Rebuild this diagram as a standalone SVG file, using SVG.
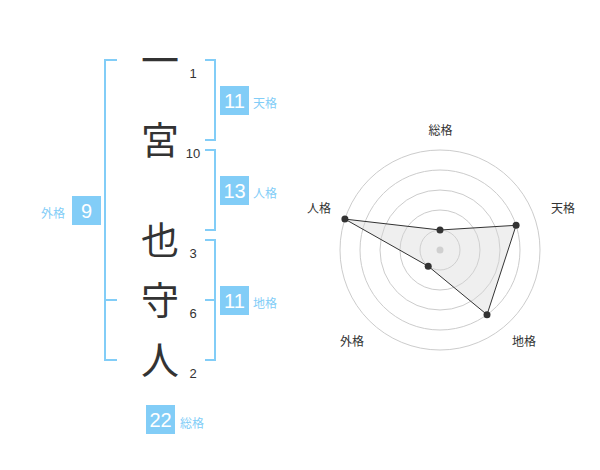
<svg xmlns="http://www.w3.org/2000/svg" width="600" height="470" viewBox="0 0 600 470">
<style>
.ch{font-family:"Noto Sans CJK JP","Noto Sans CJK SC",sans-serif;font-size:38px;fill:#333;text-anchor:middle}
.num{font-family:"Liberation Sans",Arial,sans-serif;font-size:13px;fill:#333;text-anchor:middle}
.br{fill:none;stroke:#82cdf7;stroke-width:2}
.box{fill:#82cdf7}
.bn{font-family:"Liberation Sans",Arial,sans-serif;font-size:20px;fill:#fff;text-anchor:middle}
.lb{font-family:"Noto Sans CJK JP",sans-serif;font-size:12px;fill:#82cdf7}
.grid{fill:none;stroke:#ccc;stroke-width:1}
.rl{font-family:"Noto Sans CJK JP",sans-serif;font-size:12px;fill:#333;text-anchor:middle}
.pt{fill:#333}
</style>
<rect width="600" height="470" fill="#fff"/>
<g id="name">
<text class="ch" x="160" y="74">一</text>
<text class="ch" x="160" y="154">宮</text>
<text class="ch" x="160" y="254">也</text>
<text class="ch" x="160" y="314">守</text>
<text class="ch" x="160" y="374">人</text>
<text class="num" x="193" y="78">1</text>
<text class="num" x="193" y="158">10</text>
<text class="num" x="193" y="258">3</text>
<text class="num" x="193" y="318">6</text>
<text class="num" x="193" y="378">2</text>
</g>
<g id="connectors">
<path class="br" d="M117,60 H105 V360 H117 M105,300 H117"/>
<path class="br" d="M205,60 H215 V140 H205"/>
<path class="br" d="M205,150 H215 V230 H205"/>
<path class="br" d="M205,240 H215 V360 H205 M205,300 H215"/>
</g>
<g id="tenkaku">
<rect class="box" x="220" y="86" width="29" height="29"/>
<text class="bn" x="234.5" y="107.5">11</text>
<text class="lb" x="253" y="108">天格</text>
</g>
<g id="jinkaku">
<rect class="box" x="220" y="176" width="29" height="29"/>
<text class="bn" x="234.5" y="197.5">13</text>
<text class="lb" x="253" y="198">人格</text>
</g>
<g id="chikaku">
<rect class="box" x="220" y="286" width="29" height="29"/>
<text class="bn" x="234.5" y="307.5">11</text>
<text class="lb" x="253" y="308">地格</text>
</g>
<g id="gaikaku">
<rect class="box" x="72" y="196" width="29" height="29"/>
<text class="bn" x="86.5" y="217.5">9</text>
<text class="lb" x="65" y="218" text-anchor="end">外格</text>
</g>
<g id="soukaku">
<rect class="box" x="146" y="405" width="29" height="29"/>
<text class="bn" x="160.5" y="426.5">22</text>
<text class="lb" x="180" y="428">総格</text>
</g>
<g id="radar">
<circle class="grid" cx="440" cy="250" r="20"/>
<circle class="grid" cx="440" cy="250" r="40"/>
<circle class="grid" cx="440" cy="250" r="60"/>
<circle class="grid" cx="440" cy="250" r="80"/>
<circle class="grid" cx="440" cy="250" r="100"/>
<circle cx="440" cy="250" r="3.5" fill="#ccc"/>
<polygon points="440,230 516.1,225.3 487,314.7 428.2,266.2 344.9,219.1" fill="#d8d8d8" fill-opacity="0.4" stroke="#333" stroke-width="1"/>
<circle class="pt" cx="440" cy="230" r="3.5"/>
<circle class="pt" cx="516.1" cy="225.3" r="3.5"/>
<circle class="pt" cx="487" cy="314.7" r="3.5"/>
<circle class="pt" cx="428.2" cy="266.2" r="3.5"/>
<circle class="pt" cx="344.9" cy="219.1" r="3.5"/>
<text class="rl" x="440.5" y="135">総格</text>
<text class="rl" x="563" y="213">天格</text>
<text class="rl" x="524" y="346">地格</text>
<text class="rl" x="352" y="346">外格</text>
<text class="rl" x="319" y="213">人格</text>
</g>
</svg>
